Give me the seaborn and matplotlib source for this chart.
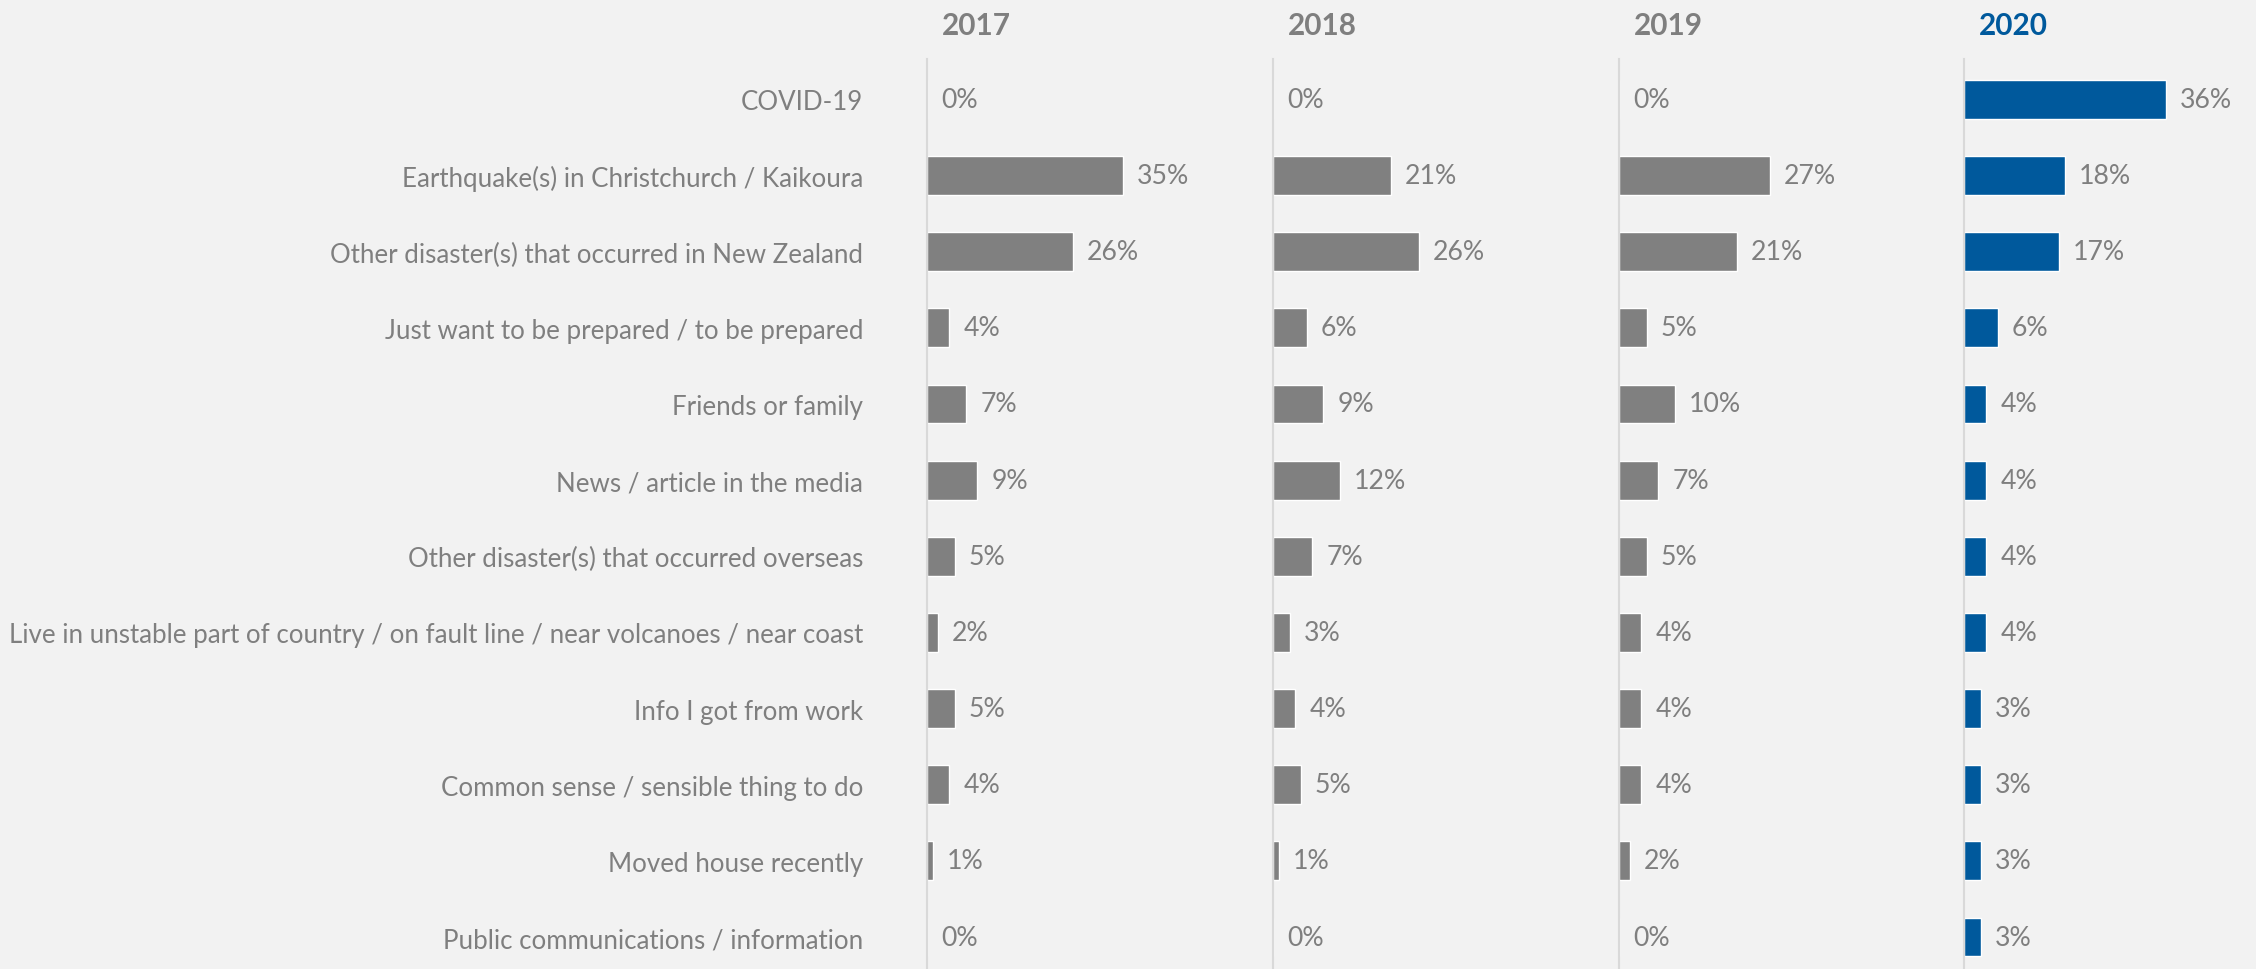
import matplotlib
matplotlib.use("Agg")
import matplotlib.pyplot as plt
import seaborn as sns
import pandas as pd

reasons = [
    "COVID-19",
    "Earthquake(s) in Christchurch / Kaikoura",
    "Other disaster(s) that occurred in New Zealand",
    "Just want to be prepared / to be prepared",
    "Friends or family",
    "News / article in the media",
    "Other disaster(s) that occurred overseas",
    "Live in unstable part of country / on fault line / near volcanoes / near coast",
    "Info I got from work",
    "Common sense / sensible thing to do",
    "Moved house recently",
    "Public communications / information",
]
years = ["2017", "2018", "2019", "2020"]
v2017 = [0, 35, 26, 4, 7, 9, 5, 2, 5, 4, 1, 0]
v2018 = [0, 21, 26, 6, 9, 12, 7, 3, 4, 5, 1, 0]
v2019 = [0, 27, 21, 5, 10, 7, 5, 4, 4, 4, 2, 0]
v2020 = [36, 18, 17, 6, 4, 4, 4, 4, 3, 3, 3, 3]
values = {"2017": v2017, "2018": v2018, "2019": v2019, "2020": v2020}

BG = "#f2f2f2"
GREY = "#808080"
BLUE = "#00599c"
TEXT = "#7f7f7f"
AXLINE = "#d9d9d9"

sns.set_theme(style="white")
plt.rcParams["font.family"] = ["Lato", "DejaVu Sans"]

W, H = 2256, 970
fig = plt.figure(figsize=(W / 100, H / 100), dpi=100, facecolor=BG)

# size the category font so the longest label spans the room left of the first panel
renderer = fig.canvas.get_renderer()
probe = fig.text(0, 0, max(reasons, key=len), fontsize=20)
probe_w = probe.get_window_extent(renderer).width
probe.remove()
label_size = 20 * 852 / probe_w

px_per_pct = 5.6
panel_left = [927, 1273, 1619, 1964]
panel_w = 285
ax_top = 60

for i, yr in enumerate(years):
    df = pd.DataFrame({"reason": reasons, "value": values[yr]})
    color = BLUE if yr == "2020" else GREY
    ax = fig.add_axes([panel_left[i] / W, 0, panel_w / W, (H - ax_top) / H])
    ax.set_facecolor(BG)
    sns.barplot(data=df, x="value", y="reason", color=color, width=0.51,
                saturation=1, ax=ax, orient="h")
    ax.set_xlim(0, panel_w / px_per_pct)
    ax.set_ylim(11.42, -0.53)
    for s in ["top", "right", "bottom"]:
        ax.spines[s].set_visible(False)
    ax.spines["left"].set_color(AXLINE)
    ax.spines["left"].set_linewidth(1.5)
    ax.set_xticks([])
    ax.set_xlabel("")
    ax.set_ylabel("")
    for j, v in enumerate(values[yr]):
        ax.annotate(f"{v}%", xy=(v, j), xytext=(14, 0), textcoords="offset pixels",
                    va="center", ha="left", fontsize=label_size * 1.03, color=TEXT)
    if i == 0:
        ax.tick_params(axis="y", length=0, pad=46, labelsize=label_size, labelcolor=TEXT)
    else:
        ax.set_yticks([])
    fig.text((panel_left[i] + 15) / W, 1 - 26 / H, yr, ha="left", va="center",
             fontsize=label_size * 1.15, fontweight="bold",
             color=BLUE if yr == "2020" else TEXT)

fig.savefig("out.png", dpi=100, facecolor=BG)
